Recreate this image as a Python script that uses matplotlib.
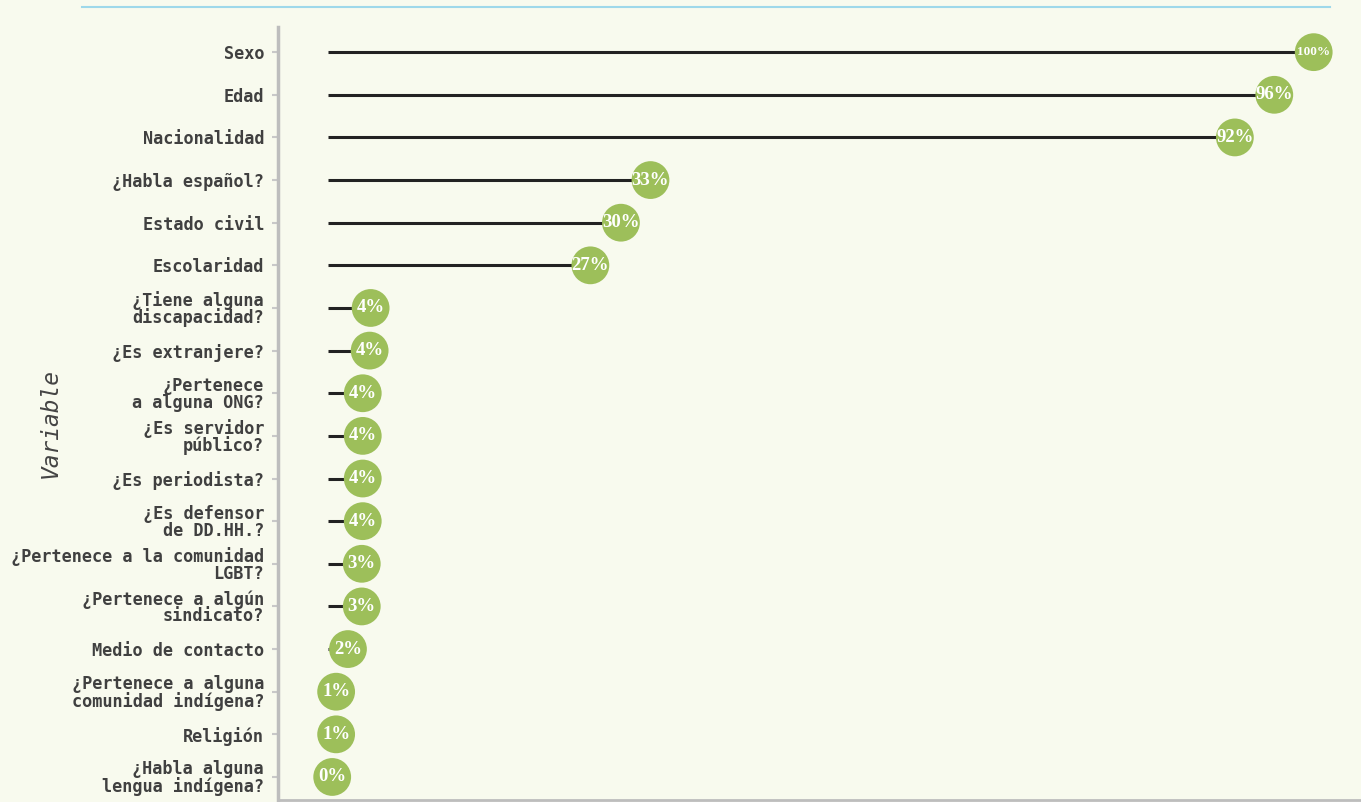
import matplotlib.pyplot as plt
from matplotlib.lines import Line2D

variables = ["Sexo", "Edad", "Nacionalidad", "¿Habla español?", "Estado civil",
             "Escolaridad", "¿Tiene alguna\ndiscapacidad?", "¿Es extranjere?",
             "¿Pertenece\na alguna ONG?", "¿Es servidor\npúblico?", "¿Es periodista?",
             "¿Es defensor\nde DD.HH.?", "¿Pertenece a la comunidad\nLGBT?",
             "¿Pertenece a algún\nsindicato?", "Medio de contacto",
             "¿Pertenece a alguna\ncomunidad indígena?", "Religión",
             "¿Habla alguna\nlengua indígena?"]
porcentajes = [100, 96, 92, 32.7, 29.7, 26.6, 4.3, 4.2, 3.5, 3.5, 3.5, 3.5,
               3.4, 3.4, 2.0, 0.8, 0.8, 0.4]
etiquetas = ["100%", "96%", "92%", "33%", "30%", "27%", "4%", "4%", "4%", "4%",
             "4%", "4%", "3%", "3%", "2%", "1%", "1%", "0%"]

fondo = "#F8FAEE"
verde = "#9DBF5A"

fig = plt.figure(figsize=(13.61, 8.02), dpi=100, facecolor=fondo)
ax = fig.add_axes([278 / 1361, 2 / 802, 1 - 278 / 1361, 773 / 802])
ax.set_facecolor(fondo)

y = list(range(len(variables)))
ax.hlines(y, 0, porcentajes, color="#222222", linewidth=2.2, zorder=2)
ax.scatter(porcentajes, y, s=740, color=verde, edgecolors="none", zorder=3)
for xi, yi, t in zip(porcentajes, y, etiquetas):
    ax.text(xi, yi, t, ha="center", va="center", color="white",
            family="Liberation Serif", weight="bold",
            fontsize=9.5 if len(t) > 3 else 13.5, zorder=4)

ax.set_xlim(-5.1, 104.8)
ax.set_ylim(17.54, -0.59)
ax.set_yticks(y)
ax.set_yticklabels(variables, family="DejaVu Sans Mono", weight="bold",
                   fontsize=12.2, color="#404040", linespacing=0.9)
ax.set_xticks([])
ax.tick_params(axis="y", length=4, width=1.5, color="#c8c8c8", pad=6)
for s in ["top", "right"]:
    ax.spines[s].set_visible(False)
ax.spines["left"].set_color("#bdbdbd")
ax.spines["left"].set_linewidth(2.5)
ax.spines["bottom"].set_color("#bdbdbd")
ax.spines["bottom"].set_linewidth(2)

fig.text(50 / 1361, 1 - 423 / 802, "Variable", rotation=90, ha="center", va="center",
         family="DejaVu Sans Mono", style="italic", fontsize=16.5, color="#444444")

fig.add_artist(Line2D([82 / 1361, 1330 / 1361], [1 - 7 / 802, 1 - 7 / 802],
                      color="#9ED8EA", linewidth=1.5))

fig.savefig("out.png", dpi=100, facecolor=fondo)
